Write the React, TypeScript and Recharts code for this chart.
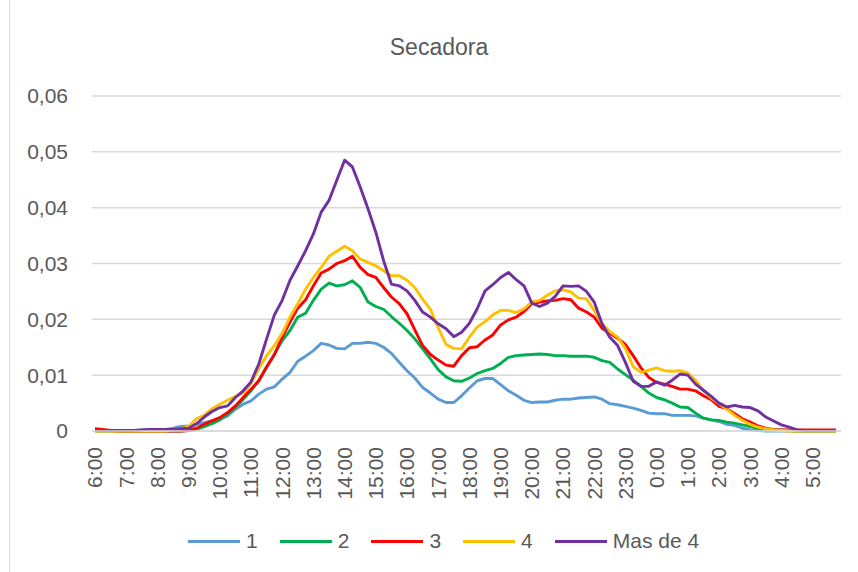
import { LineChart, Line, XAxis, YAxis, CartesianGrid } from "recharts"

const hours = [
  "6", "7", "8", "9", "10", "11", "12", "13", "14", "15", "16", "17",
  "18", "19", "20", "21", "22", "23", "0", "1", "2", "3", "4", "5",
]
const quarters = ["00", "15", "30", "45"]
const times = hours.flatMap((h) => quarters.map((m) => `${h}:${m}`))

const yTicks = [0, 0.01, 0.02, 0.03, 0.04, 0.05, 0.06]

// one value every 15 minutes, from 6:00 to 5:45
const s1 = [
  0.0001, 0.0001, 0.0001, 0.0001, 0.0001, 0.0001, 0.0002, 0.0002, 0.0003, 0.0003, 0.0005, 0.0008,
  0.0009, 0.0012, 0.0015, 0.0018, 0.0021, 0.0027, 0.0039, 0.0048, 0.0054, 0.0066, 0.0075, 0.0079,
  0.0093, 0.0105, 0.0125, 0.0134, 0.0144, 0.0157, 0.0154, 0.0148, 0.0147, 0.0157, 0.0157, 0.0159,
  0.0157, 0.015, 0.0139, 0.0123, 0.0108, 0.0095, 0.0078, 0.0068, 0.0057, 0.0051, 0.0051, 0.0063,
  0.0077, 0.009, 0.0094, 0.0094, 0.0083, 0.0072, 0.0064, 0.0055, 0.0051, 0.0052, 0.0052, 0.0055,
  0.0057, 0.0057, 0.0059, 0.006, 0.0061, 0.0057, 0.0049, 0.0047, 0.0044, 0.0041, 0.0037, 0.0032,
  0.0031, 0.0031, 0.0028, 0.0028, 0.0028, 0.0027, 0.0023, 0.002, 0.0017, 0.0012, 0.001, 0.0005,
  0.0002, 0.0001, 0, 0, 0, 0, 0, 0, 0, 0, 0, 0,
]
const s2 = [
  0, 0, 0, 0, 0, 0, 0, 0, 0, 0, 0, 0,
  0.0001, 0.0003, 0.0008, 0.0013, 0.002, 0.003, 0.0042, 0.0057, 0.0072, 0.009, 0.0115, 0.0137,
  0.0162, 0.018, 0.0204, 0.0211, 0.0234, 0.0254, 0.0265, 0.026, 0.0262, 0.0269, 0.0257, 0.0231,
  0.0223, 0.0218, 0.0205, 0.0193, 0.018, 0.0165, 0.0147, 0.0129, 0.011, 0.0097, 0.009, 0.0089,
  0.0095, 0.0103, 0.0108, 0.0112, 0.0121, 0.0132, 0.0135, 0.0136, 0.0137, 0.0138, 0.0137, 0.0135,
  0.0135, 0.0134, 0.0134, 0.0134, 0.0132, 0.0126, 0.0123, 0.0111, 0.0101, 0.0091, 0.008, 0.0068,
  0.006, 0.0056, 0.005, 0.0043, 0.0042, 0.0032, 0.0023, 0.002, 0.0019, 0.0016, 0.0014, 0.0011,
  0.0008, 0.0005, 0.0004, 0.0003, 0.0002, 0.0001, 0, 0, 0, 0, 0, 0,
]
const s3 = [
  0.0004, 0.0003, 0.0001, 0, 0, 0, 0, 0, 0, 0, 0, 0,
  0.0001, 0.0005, 0.0012, 0.0018, 0.0024, 0.0033, 0.0045, 0.006, 0.0075, 0.009, 0.0114, 0.0137,
  0.0168, 0.0195, 0.022, 0.0235, 0.026, 0.0283, 0.029, 0.03, 0.0305, 0.0313, 0.0293, 0.028,
  0.0275, 0.0257, 0.024, 0.0228, 0.021, 0.0181, 0.0153, 0.0137, 0.0127, 0.0118, 0.0116, 0.0135,
  0.0149, 0.0151, 0.0163, 0.0172, 0.019, 0.0199, 0.0204, 0.0214, 0.0228, 0.0231, 0.0233, 0.0234,
  0.0237, 0.0235, 0.022, 0.0213, 0.0204, 0.0184, 0.0175, 0.0166, 0.0155, 0.0135, 0.0113, 0.0096,
  0.0087, 0.0084, 0.008, 0.0075, 0.0075, 0.0072, 0.0063, 0.0056, 0.0044, 0.004, 0.0031, 0.0022,
  0.0016, 0.0009, 0.0005, 0.0002, 0.0002, 0.0002, 0.0002, 0.0002, 0.0002, 0.0002, 0.0002, 0.0002,
]
const s4 = [
  0, 0, 0, 0, 0, 0, 0, 0, 0, 0, 0.0002, 0.0004,
  0.0008, 0.0022, 0.0028, 0.004, 0.0048, 0.0055, 0.0062, 0.0068, 0.0085, 0.0112, 0.0135, 0.0153,
  0.0175, 0.0204, 0.0228, 0.0254, 0.0275, 0.0293, 0.0313, 0.0322, 0.0331, 0.0323, 0.0308, 0.0302,
  0.0296, 0.0287, 0.0278, 0.0278, 0.027, 0.0257, 0.0236, 0.0218, 0.0185, 0.0155, 0.0148, 0.0147,
  0.0168, 0.0186, 0.0196, 0.0208, 0.0216, 0.0216, 0.0212, 0.0219, 0.0231, 0.0234, 0.0243, 0.0251,
  0.0253, 0.0249, 0.0238, 0.0237, 0.0216, 0.0192, 0.0178, 0.0168, 0.0148, 0.0115, 0.0105, 0.0109,
  0.0113, 0.0108, 0.0107, 0.0108, 0.0104, 0.0091, 0.0072, 0.0059, 0.0049, 0.0039, 0.0028, 0.0019,
  0.0012, 0.0007, 0.0004, 0.0002, 0.0001, 0, 0, 0, 0, 0, 0, 0,
]
const s5 = [
  0.0001, 0.0001, 0.0001, 0.0001, 0.0001, 0.0001, 0.0002, 0.0003, 0.0003, 0.0003, 0.0003, 0.0004,
  0.0005, 0.0013, 0.0025, 0.0035, 0.0042, 0.0045, 0.006, 0.0072, 0.0088, 0.012, 0.0165, 0.0208,
  0.0234, 0.027, 0.0296, 0.0323, 0.0353, 0.0392, 0.0413, 0.0449, 0.0485, 0.0473, 0.0437, 0.0398,
  0.0356, 0.0305, 0.0263, 0.026, 0.0251, 0.0234, 0.0213, 0.0204, 0.0192, 0.0183, 0.0169, 0.0177,
  0.0193, 0.0219, 0.0251, 0.0262, 0.0275, 0.0284, 0.0271, 0.026, 0.0229, 0.0223, 0.0229, 0.0241,
  0.026, 0.0259, 0.026, 0.025, 0.0231, 0.0192, 0.0168, 0.0153, 0.0123, 0.0089, 0.008, 0.008,
  0.0088, 0.0082, 0.0091, 0.0102, 0.01, 0.0084, 0.0073, 0.0062, 0.005, 0.0043, 0.0046, 0.0043,
  0.0042, 0.0036, 0.0025, 0.0018, 0.0011, 0.0007, 0.0002, 0.0001, 0.0001, 0.0001, 0.0001, 0.0001,
]

const series = [
  { key: "s1", name: "1", color: "#5B9BD5", values: s1 },
  { key: "s2", name: "2", color: "#00B050", values: s2 },
  { key: "s3", name: "3", color: "#FF0000", values: s3 },
  { key: "s4", name: "4", color: "#FFC000", values: s4 },
  { key: "s5", name: "Mas de 4", color: "#7030A0", values: s5 },
]

const data = times.map((t, i) => {
  const row: Record<string, string | number> = { time: t }
  series.forEach((s) => {
    row[s.key] = s.values[i]
  })
  return row
})

const textColor = "#595959"
const gridColor = "#d9d9d9"
const font = "'Liberation Sans', Arial, sans-serif"

function formatY(v: number) {
  return v === 0 ? "0" : v.toFixed(2).replace(".", ",")
}

interface TickProps {
  x?: number
  y?: number
  payload?: { value: string }
}

function TimeTick({ x = 0, y = 0, payload }: TickProps) {
  return (
    <text
      x={x}
      y={y}
      dy="0.35em"
      transform={`rotate(-90, ${x}, ${y})`}
      textAnchor="end"
      fill={textColor}
      fontSize={21}
      fontFamily={font}
    >
      {payload?.value}
    </text>
  )
}

export default function App() {
  return (
    <div
      style={{
        position: "absolute",
        left: 0,
        top: 0,
        width: 858,
        height: 572,
        background: "#fff",
        fontFamily: font,
      }}
    >
      <div
        style={{
          position: "absolute",
          left: 9,
          top: 0,
          width: 1,
          height: 572,
          background: gridColor,
        }}
      />
      <div
        style={{
          position: "absolute",
          left: 0,
          top: 33,
          width: 878,
          textAlign: "center",
          fontSize: 23,
          color: textColor,
          lineHeight: "28px",
        }}
      >
        Secadora
      </div>
      <LineChart
        width={858}
        height={572}
        data={data}
        margin={{ top: 96, right: 17, left: 0, bottom: 0 }}
      >
        <CartesianGrid vertical={false} stroke={gridColor} strokeWidth={1.5} />
        <XAxis
          dataKey="time"
          interval={3}
          height={141}
          tickLine={false}
          tickSize={0}
          tickMargin={16}
          axisLine={{ stroke: gridColor, strokeWidth: 1.5 }}
          padding={{ left: 3, right: 5 }}
          tick={<TimeTick />}
        />
        <YAxis
          width={92}
          domain={[0, 0.06]}
          ticks={yTicks}
          tickFormatter={formatY}
          axisLine={false}
          tickLine={false}
          tickSize={0}
          tickMargin={24}
          tick={{ fill: textColor, fontSize: 21, fontFamily: font }}
        />
        {series.map((s) => (
          <Line
            key={s.key}
            type="linear"
            dataKey={s.key}
            name={s.name}
            stroke={s.color}
            strokeWidth={2.9}
            strokeLinejoin="round"
            dot={false}
            isAnimationActive={false}
          />
        ))}
      </LineChart>
      <div
        style={{
          position: "absolute",
          left: 188,
          top: 527,
          display: "flex",
          alignItems: "center",
          fontSize: 21,
          color: textColor,
          lineHeight: "28px",
          whiteSpace: "nowrap",
        }}
      >
        {series.map((s) => (
          <div key={s.key} style={{ display: "flex", alignItems: "center", marginRight: 22 }}>
            <span
              style={{
                display: "inline-block",
                width: 52,
                height: 3,
                background: s.color,
                marginRight: 6,
              }}
            />
            <span>{s.name}</span>
          </div>
        ))}
      </div>
    </div>
  )
}
